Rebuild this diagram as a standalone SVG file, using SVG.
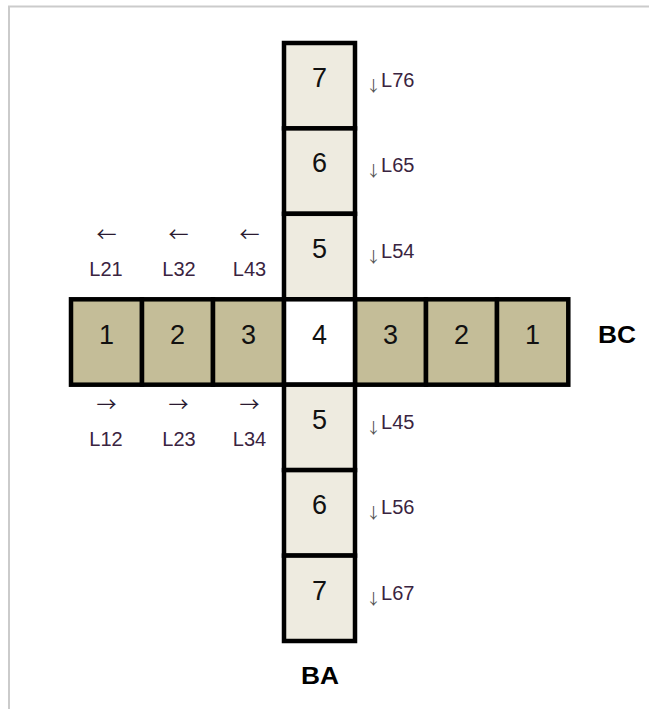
<svg xmlns="http://www.w3.org/2000/svg" width="649" height="709" viewBox="0 0 649 709">
<style>
.pg{fill:#fff;stroke:#cbcbcb;stroke-width:2}
.cell rect{stroke:#000;stroke-width:4.5}
.col{fill:#eeebe0}
.row{fill:#c4bd98}
.ctr{fill:#fff}
.num{font-family:"Liberation Sans",Arial,sans-serif;font-size:27px;fill:#111;text-anchor:middle}
.lbl{font-family:"Liberation Sans",Arial,sans-serif;font-size:20px;fill:#3a2440}
.arr{font-family:"Noto Sans CJK SC","DejaVu Sans",sans-serif;font-size:15px;fill:#555}
.harr{font-family:"Noto Sans CJK SC","DejaVu Sans",sans-serif;font-size:20px;fill:#2a1a30;text-anchor:middle}
.mid{text-anchor:middle}
.big{font-family:"Liberation Sans",Arial,sans-serif;font-size:24px;font-weight:bold;fill:#000;text-anchor:middle}
</style>
<rect class="pg" x="9" y="6.5" width="700" height="760"/>
<g id="v7" class="cell"><rect class="col" x="284" y="43" width="71" height="85.4"/><text class="num" x="319.5" y="87">7</text></g>
<g id="v6" class="cell"><rect class="col" x="284" y="128.4" width="71" height="85.4"/><text class="num" x="319.5" y="172.4">6</text></g>
<g id="v5" class="cell"><rect class="col" x="284" y="213.8" width="71" height="85.5"/><text class="num" x="319.5" y="257.8">5</text></g>
<g id="h1" class="cell"><rect class="row" x="71" y="299.3" width="71" height="85.4"/><text class="num" x="106.5" y="344">1</text></g>
<g id="h2" class="cell"><rect class="row" x="142" y="299.3" width="71" height="85.4"/><text class="num" x="177.5" y="344">2</text></g>
<g id="h3" class="cell"><rect class="row" x="213" y="299.3" width="71" height="85.4"/><text class="num" x="248.5" y="344">3</text></g>
<g id="h3r" class="cell"><rect class="row" x="355" y="299.3" width="71" height="85.4"/><text class="num" x="390.5" y="344">3</text></g>
<g id="h2r" class="cell"><rect class="row" x="426" y="299.3" width="71" height="85.4"/><text class="num" x="461.5" y="344">2</text></g>
<g id="h1r" class="cell"><rect class="row" x="497" y="299.3" width="71.3" height="85.4"/><text class="num" x="532.5" y="344">1</text></g>
<g id="c4" class="cell"><rect class="ctr" x="284" y="299.3" width="71" height="85.4"/><text class="num" x="319.5" y="344">4</text></g>
<g id="v5b" class="cell"><rect class="col" x="284" y="384.7" width="71" height="85.4"/><text class="num" x="319.5" y="428.7">5</text></g>
<g id="v6b" class="cell"><rect class="col" x="284" y="470.1" width="71" height="85.5"/><text class="num" x="319.5" y="514.1">6</text></g>
<g id="v7b" class="cell"><rect class="col" x="284" y="555.6" width="71" height="85.4"/><text class="num" x="319.5" y="599.6">7</text></g>
<g id="labels">
<text class="lbl" x="366" y="87"><tspan class="arr" dy="4">↓</tspan><tspan dy="-4">L76</tspan></text>
<text class="lbl" x="366" y="172.4"><tspan class="arr" dy="4">↓</tspan><tspan dy="-4">L65</tspan></text>
<text class="lbl" x="366" y="257.8"><tspan class="arr" dy="4">↓</tspan><tspan dy="-4">L54</tspan></text>
<text class="lbl" x="366" y="428.7"><tspan class="arr" dy="4">↓</tspan><tspan dy="-4">L45</tspan></text>
<text class="lbl" x="366" y="514.1"><tspan class="arr" dy="4">↓</tspan><tspan dy="-4">L56</tspan></text>
<text class="lbl" x="366" y="599.6"><tspan class="arr" dy="4">↓</tspan><tspan dy="-4">L67</tspan></text>
<text class="harr" x="106.5" y="241.6">←</text>
<text class="harr" x="178.5" y="241.6">←</text>
<text class="harr" x="249.5" y="241.6">←</text>
<text class="lbl mid" x="106" y="275.7">L21</text>
<text class="lbl mid" x="179" y="275.7">L32</text>
<text class="lbl mid" x="249.5" y="275.7">L43</text>
<text class="harr" x="106.5" y="411.6">→</text>
<text class="harr" x="178.5" y="411.6">→</text>
<text class="harr" x="249.5" y="411.6">→</text>
<text class="lbl mid" x="106" y="446">L12</text>
<text class="lbl mid" x="179" y="446">L23</text>
<text class="lbl mid" x="249.5" y="446">L34</text>
<text id="BC" class="big" x="617" y="342.7" textLength="38" lengthAdjust="spacingAndGlyphs">BC</text>
<text id="BA" class="big" x="320" y="684" textLength="38" lengthAdjust="spacingAndGlyphs">BA</text>
</g>
</svg>
